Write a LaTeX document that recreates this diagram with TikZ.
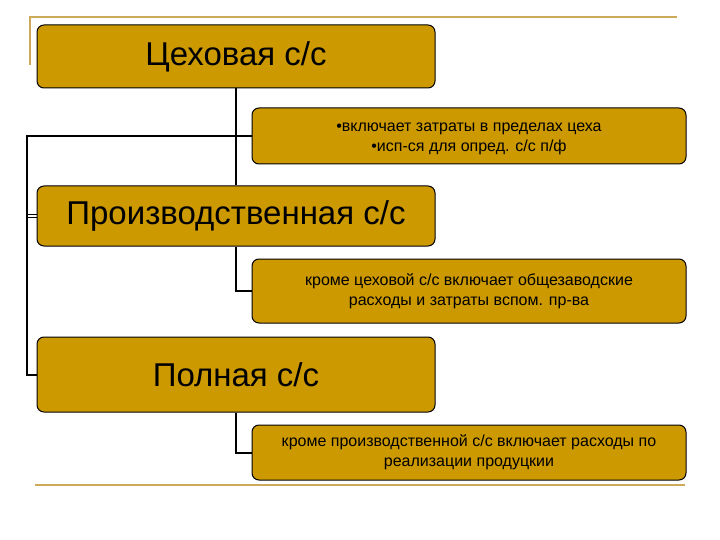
\documentclass[tikz,border=0pt]{standalone}
\usepackage{fontspec}
\setmainfont{Liberation Sans}
\definecolor{boxgold}{RGB}{204,153,0}
\definecolor{linegold}{RGB}{205,170,90}
\begin{document}
\begin{tikzpicture}[x=1pt,y=-1pt,
  bigbox/.style={draw=black,line width=1pt,fill=boxgold,rounded corners=7pt,
    minimum width=398pt,inner sep=0pt,align=center,text=black,
    font=\fontsize{33}{36}\selectfont},
  smallbox/.style={draw=black,line width=1pt,fill=boxgold,rounded corners=7pt,
    minimum width=434pt,inner sep=0pt,align=center,text=black,
    font=\fontsize{16}{20}\selectfont},
  conn/.style={draw=black,line width=2pt},
  deco/.style={draw=linegold,line width=2pt}]
\useasboundingbox (0,0) rectangle (720,540);
% decorative lines
\draw[deco] (30,65) -- (30,17) -- (677,17);
\draw[deco] (35,485) -- (685,485);
\coordinate (L) at (27,0);
% boxes
\node[bigbox,minimum height=63pt] (b1) at (236,56.5) {Цеховая с/с};
\node[smallbox,minimum height=56pt] (b2) at (469,136) {\raisebox{0pt}[15pt][0pt]{}•включает затраты в пределах цеха\\•исп-ся для опред. с/с п/ф};
\node[bigbox,minimum height=60pt] (b3) at (236,216) {Производственная с/с};
\node[smallbox,minimum height=64pt] (b4) at (469,291) {кроме цеховой с/с включает общезаводские\\расходы и затраты вспом. пр-ва};
\node[bigbox,minimum height=75pt] (b5) at (236,374.5) {Полная с/с};
\node[smallbox,minimum height=55pt] (b6) at (469,452.5) {кроме производственной с/с включает расходы по\\реализации продуцкии};
% connectors
\draw[conn] (b1.south) -- (b1.south |- b3.north);
\draw[conn] (b2.west) -- (b2.west -| L) -- (L |- b5.west) -- (b5.west);
\draw[black,line width=1pt] ([yshift=-1.7pt]b3.west) -- ([yshift=-1.7pt]b3.west -| L);
\draw[black,line width=1pt] ([yshift=1.7pt]b3.west) -- ([yshift=1.7pt]b3.west -| L);
\draw[conn] (b1.south |- b3.south) |- (b4.west);
\draw[conn] (b1.south |- b5.south) |- (b6.west);
\end{tikzpicture}
\end{document}
